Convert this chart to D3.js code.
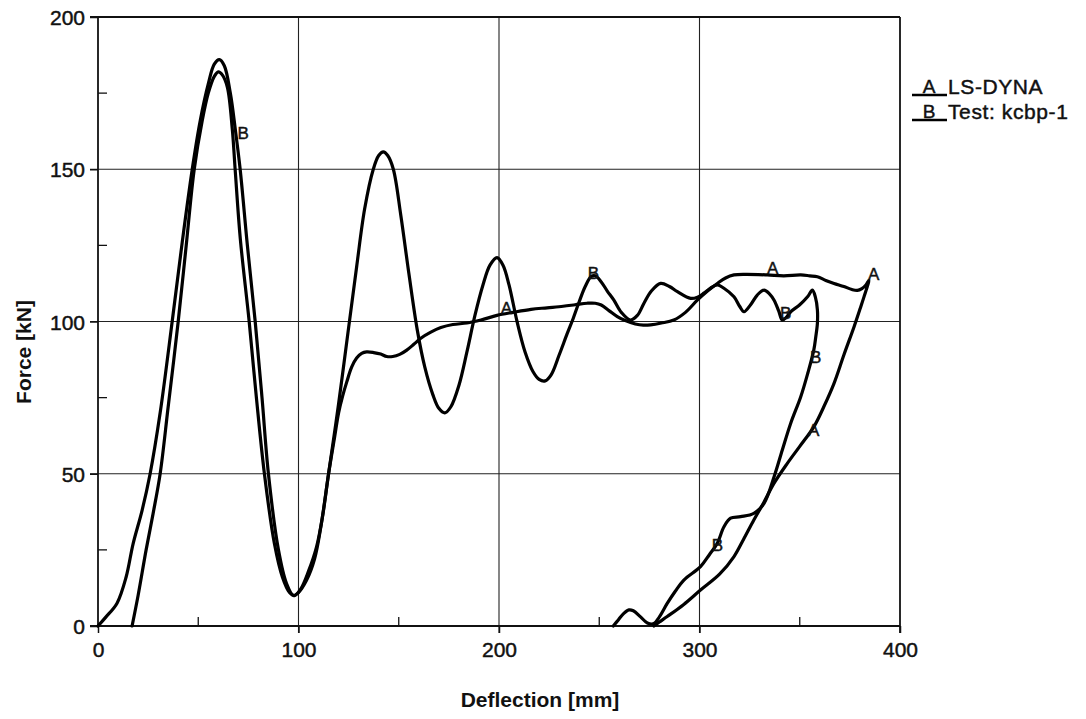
<!DOCTYPE html>
<html>
<head>
<meta charset="utf-8">
<script src="https://cdn.jsdelivr.net/npm/d3@7/dist/d3.min.js"></script>
<style>
  html, body { margin: 0; padding: 0; background: #fff; }
  svg { display: block; }
  text { font-family: "Liberation Sans", Arial, sans-serif; fill: #111; }
  .heavy { stroke: #111; stroke-width: 0.45px; }
</style>
</head>
<body>
<svg id="chart" width="1086" height="719"></svg>
<script>
// ---------------- data ----------------
const xTicks = [0, 100, 200, 300, 400];
const yTicks = [0, 50, 100, 150, 200];
const xMinorTicks = [50, 150, 250, 350];
const yMinorTicks = [25, 75, 125, 175];
const xTitle = "Deflection [mm]";
const yTitle = "Force [kN]";

const seriesCodes = ["A", "B"];
const seriesNames = ["LS-DYNA", "Test: kcbp-1"];

// Series A : LS-DYNA
const seriesA_x = [17, 20, 24, 27.5, 31, 35, 40, 44, 48, 52, 55, 58, 60, 62, 64.5, 67, 68.4, 71, 75.4, 79, 83, 88, 92, 95.5, 98,
  101, 105, 109, 112, 115, 118, 120, 122, 124, 126.5, 129, 131.5, 134, 137.5, 141, 144, 147, 150.5, 154, 157.5, 161, 166, 171, 177,
  184, 191, 199, 207, 216, 224, 232, 238, 244, 248, 251, 255, 259, 263, 268, 272, 275.6, 281, 287.2, 293, 298.9, 304, 308.9,
  313, 317.2, 323, 333.8, 342, 350.5, 355, 358.8, 363, 367.1, 372, 376, 378.7, 381, 383, 384.5,
  382, 380, 377.1, 372, 367.1, 362, 357.1, 350, 343.8, 337.2, 332, 327.1, 322, 317.2, 310, 300.5, 292, 283.9, 280, 277.3];
const seriesA_y = [0, 10, 25, 37, 50, 72, 100, 125, 150, 166, 175, 180.5, 182, 181, 177, 163, 150, 127, 100, 75, 50, 27, 16, 11, 10,
  12, 18, 26, 36, 50, 62, 70, 75.5, 80, 85, 88, 89.5, 90, 89.8, 89.3, 88.5, 88.5, 89.2, 90.6, 92.5, 94.5, 96.5, 98, 99,
  99.5, 100.5, 102, 103, 104, 104.5, 105, 105.5, 106, 106, 105.4, 103.5, 101.6, 100.3, 99.2, 98.8, 98.9, 99.5, 100.5, 103, 107, 110, 112.5,
  114.3, 115.3, 115.5, 115.3, 115, 115.3, 115, 114.7, 113.5, 112.5, 111.5, 110.5, 110.2, 110.8, 112, 113.5,
  108, 104, 98.3, 89, 79.7, 72, 65.5, 59, 53.4, 46.9, 40.5, 34.8, 28.5, 22.8, 17, 11.8, 7, 3.1, 1.3, 0];

// Series B : Test kcbp-1
const seriesB_x = [0, 4, 9.5, 14, 17.5, 22, 26, 31, 37, 42, 47, 51, 55, 58, 60.5, 63, 66, 68.5, 70.9, 74.5, 78.4, 81.8, 85, 90, 94, 97.5,
  100, 104, 108, 111, 115, 120, 124.8, 129, 133, 137.3, 140, 142.3, 144.5, 147.3, 151, 155, 159.3, 163, 167, 170, 173, 176, 180, 184,
  188, 192, 195.5, 199, 202, 205, 209, 213, 217, 220, 223, 226, 230, 234, 237, 240, 243, 246, 248, 251, 254, 257.3, 261, 265.6,
  269, 272.3, 276, 280.6, 285, 289, 295.6, 299, 302.2, 305.5, 308.9, 312, 317.2, 320, 322.2, 325.5, 328.8, 332.2, 335, 337.2,
  339.5, 341.3, 343.5, 345.5, 350, 354, 356.3, 357.8, 358.8, 358.8, 358, 357, 354, 350.5, 345.5, 341.3, 337.2, 332.2, 327.1,
  320.5, 315.5, 312.2, 308.9, 305, 300.5, 292.2, 288, 283.9, 280, 277.3, 274, 270.6, 267, 264.8, 262, 259.5, 257];
const seriesB_y = [0, 3, 7.5, 16, 27, 38, 50, 70, 100, 126, 150, 166, 178, 184.5, 186, 184, 175, 163, 150, 125, 100, 75, 50, 25, 14, 10,
  11, 15, 22, 32, 50, 73, 97, 118, 137, 150, 154.5, 155.7, 154.5, 150, 135, 116, 97, 85, 76, 71.5, 70, 72, 79, 90,
  102, 112, 118.5, 121, 118.5, 112, 100, 90, 83.5, 81, 80.5, 82.5, 89, 96, 101, 106.5, 111.5, 114.8, 115, 113, 110, 107, 103, 100.5,
  102, 106, 110, 112.5, 111.5, 109.8, 107.6, 108, 109.3, 111, 112, 111, 108.1, 105, 103.2, 105.5, 108.7, 110.3, 109, 107,
  103.5, 100.5, 101.5, 103.2, 105.5, 108.2, 110.3, 108, 103.8, 99.4, 95, 90.6, 83, 75.3, 66.6, 57.8, 49, 40.3, 37,
  35.9, 35.4, 32.6, 27.2, 23.5, 19.5, 15.1, 11.5, 7.4, 3, 0.8, 1, 3, 5, 5.3, 4, 2, 0];

// curve identification letters placed along the curves (data coordinates)
const labelA_x = [203.7, 336.5, 386.9, 357];
const labelA_y = [104.4, 117.6, 115.6, 64.4];
const labelB_x = [72.4, 247.1, 343, 358, 308.9];
const labelB_y = [161.9, 115.9, 102.8, 88.3, 26.6];

// ---------------- layout ----------------
const svg = d3.select("#chart");
const mLeft = 98, mRight = 900, mTop = 17, mBottom = 626;

const x = d3.scaleLinear().domain([0, 400]).range([mLeft, mRight]);
const y = d3.scaleLinear().domain([0, 200]).range([mBottom, mTop]);

// grid lines
const grid = svg.append("g").attr("stroke", "#222").attr("stroke-width", 1.1);
grid.selectAll("line.vx").data(xTicks.filter(d => d > 0 && d < 400)).join("line")
  .attr("x1", d => x(d)).attr("x2", d => x(d)).attr("y1", y(200)).attr("y2", y(0) + 7);
grid.selectAll("line.hy").data(yTicks.filter(d => d > 0 && d < 200)).join("line")
  .attr("y1", d => y(d)).attr("y2", d => y(d)).attr("x1", x(0) - 8).attr("x2", x(400));

// axes via d3
const xAxis = svg.append("g").attr("transform", `translate(0,${mBottom})`)
  .call(d3.axisBottom(x).tickValues(xTicks).tickSize(7).tickPadding(9).tickFormat(d3.format("d")));
const yAxis = svg.append("g").attr("transform", `translate(${mLeft},0)`)
  .call(d3.axisLeft(y).tickValues(yTicks).tickSize(8).tickPadding(5).tickFormat(d3.format("d")));
[xAxis, yAxis].forEach(g => {
  g.select(".domain").remove();
  g.selectAll(".tick line").attr("stroke", "#111").attr("stroke-width", 1.5);
  g.selectAll(".tick text").attr("font-size", 21).attr("fill", "#111").attr("class", "heavy")
    .attr("font-family", "Liberation Sans, Arial, sans-serif");
});
yAxis.selectAll(".tick text").attr("dy", "0.36em");
xAxis.selectAll(".tick text").attr("dy", "0.71em");

// minor ticks (inward)
svg.append("g").selectAll("line").data(xMinorTicks).join("line")
  .attr("x1", d => x(d)).attr("x2", d => x(d)).attr("y1", mBottom).attr("y2", mBottom - 9)
  .attr("stroke", "#111").attr("stroke-width", 1.3);
svg.append("g").selectAll("line").data(yMinorTicks).join("line")
  .attr("y1", d => y(d)).attr("y2", d => y(d)).attr("x1", mLeft).attr("x2", mLeft + 9)
  .attr("stroke", "#111").attr("stroke-width", 1.3);

// frame
svg.append("line").attr("x1", mLeft).attr("x2", mLeft).attr("y1", mTop).attr("y2", mBottom).attr("stroke", "#111").attr("stroke-width", 1.8);
svg.append("line").attr("x1", mLeft - 8).attr("x2", mRight).attr("y1", mBottom).attr("y2", mBottom).attr("stroke", "#111").attr("stroke-width", 2.2);
svg.append("line").attr("x1", mLeft - 8).attr("x2", mRight).attr("y1", mTop).attr("y2", mTop).attr("stroke", "#111").attr("stroke-width", 2.2);
svg.append("line").attr("x1", mRight).attr("x2", mRight).attr("y1", mTop).attr("y2", mBottom + 7).attr("stroke", "#111").attr("stroke-width", 1.8);

// curves
const line = d3.line().x(d => x(d[0])).y(d => y(d[1])).curve(d3.curveCatmullRom.alpha(0.5));
const dataA = seriesA_x.map((v, i) => [v, seriesA_y[i]]);
const dataB = seriesB_x.map((v, i) => [v, seriesB_y[i]]);
[dataA, dataB].forEach(d => {
  svg.append("path").datum(d).attr("d", line)
    .attr("fill", "none").attr("stroke", "#000").attr("stroke-width", 3.2)
    .attr("stroke-linejoin", "round").attr("stroke-linecap", "round");
});

// curve letters
const lettersA = labelA_x.map((v, i) => [v, labelA_y[i]]);
const lettersB = labelB_x.map((v, i) => [v, labelB_y[i]]);
[[lettersA, seriesCodes[0]], [lettersB, seriesCodes[1]]].forEach(([pts, code]) => {
  svg.append("g").selectAll("text").data(pts).join("text")
    .attr("x", d => x(d[0])).attr("y", d => y(d[1]))
    .attr("text-anchor", "middle").attr("dy", "0.36em")
    .attr("font-size", 17).attr("class", "heavy").text(code);
});

// legend
const legend = svg.append("g");
seriesCodes.forEach((code, i) => {
  const yy = 94 + i * 25;
  legend.append("line").attr("x1", 912).attr("x2", 947).attr("y1", yy + 1).attr("y2", yy + 1)
    .attr("stroke", "#000").attr("stroke-width", 2.4);
  legend.append("text").attr("x", 929).attr("y", yy - 1).attr("text-anchor", "middle")
    .attr("font-size", 19).attr("class", "heavy").text(code);
  legend.append("text").attr("x", 948).attr("y", yy).attr("font-size", 21)
    .attr("letter-spacing", 0.6).attr("class", "heavy").text(seriesNames[i]);
});

// axis titles
svg.append("text").attr("x", 540).attr("y", 707).attr("text-anchor", "middle")
  .attr("font-size", 21).attr("font-weight", "bold").text(xTitle);
svg.append("text").attr("transform", "translate(31,352) rotate(-90)").attr("text-anchor", "middle")
  .attr("font-size", 21).attr("font-weight", "bold").text(yTitle);
</script>
</body>
</html>
